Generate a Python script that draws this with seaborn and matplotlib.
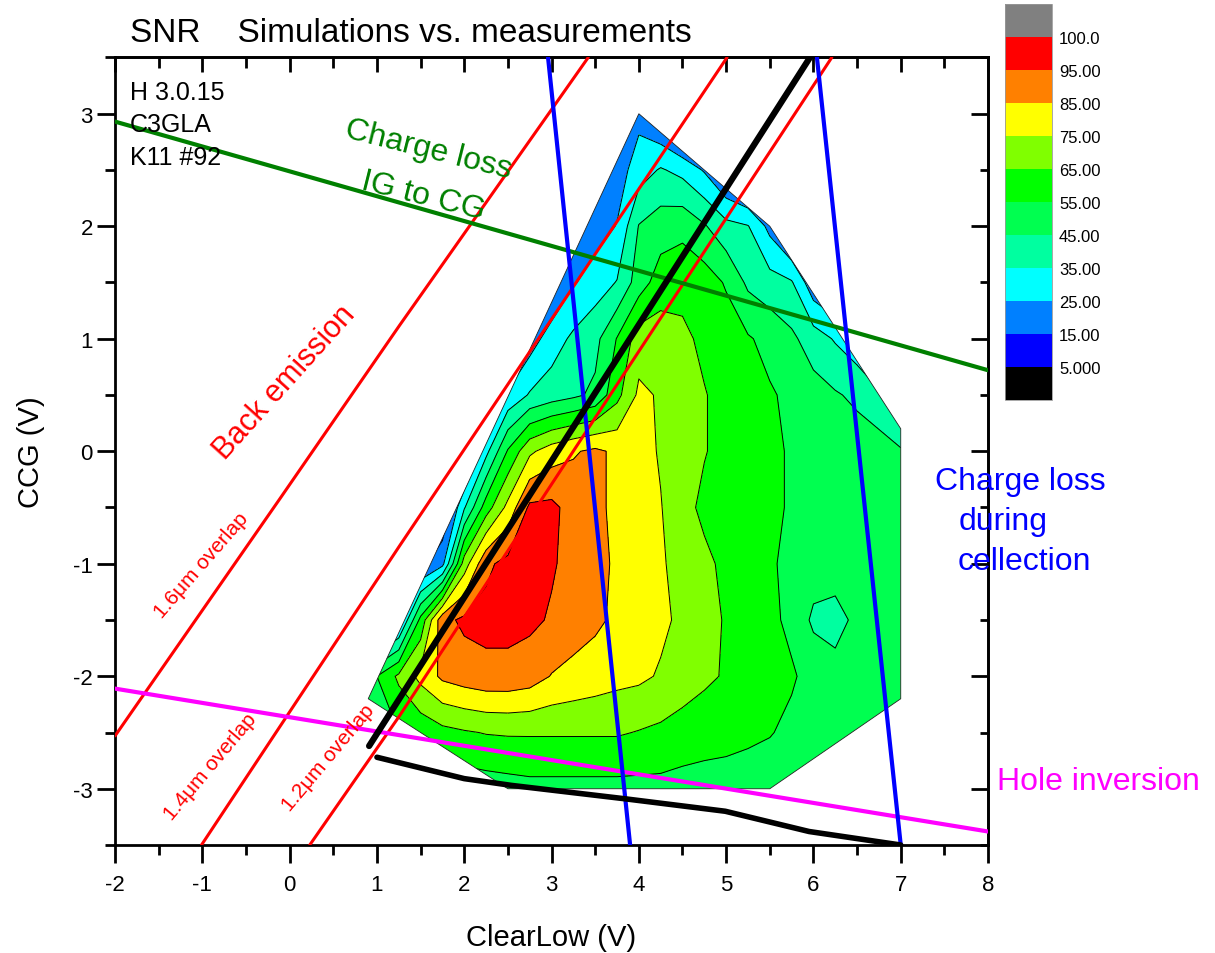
import numpy as np
import matplotlib
matplotlib.use("Agg")
import matplotlib.pyplot as plt
import matplotlib.patches as mpatches
from matplotlib.colors import ListedColormap, BoundaryNorm
from matplotlib.cm import ScalarMappable
from matplotlib.ticker import MultipleLocator
import seaborn as sns

# ---------------------------------------------------------------- data
# SNR sampled on a ClearLow x CCG grid (one list per CCG row)
clearlow_grid = [0.75, 1.0, 1.25, 1.5, 1.75, 2.0, 2.25, 2.5, 2.75, 3.0, 3.25, 3.5,
                 3.75, 4.0, 4.25, 4.5, 4.75, 5.0, 5.25, 5.5, 5.75, 6.0, 6.25, 6.5, 7.0]
ccg_grid = [-3.0, -2.5, -2.0, -1.5, -1.0, -0.5, 0.0, 0.5, 1.0, 1.5, 2.0, 2.5, 3.0]

snr_ccg_m30 = [45, 45, 46, 47, 48, 49, 50, 51, 52, 52, 52, 52, 52, 52, 52, 51, 51, 51, 50, 50, 49, 48, 47, 46, 44]
snr_ccg_m25 = [45, 50, 55, 58, 62, 64, 65.5, 66, 66, 66, 66, 66, 66, 64.5, 63, 61, 59, 58, 57, 55.5, 53, 51, 50, 49, 47]
snr_ccg_m20 = [45, 55, 67, 78, 87, 90, 92, 92, 90, 84.5, 82, 80, 78, 77, 74, 70, 67, 64, 61, 58, 56, 52, 48, 48, 49]
snr_ccg_m15 = [0, 5, 20, 58, 92, 97, 98, 98, 97, 94, 90, 87, 83, 80, 77, 73, 69, 64, 61, 57, 53, 43, 42, 47, 49]
snr_ccg_m10 = [0, 0, 0, 12, 22, 70, 93, 98, 98, 96, 92, 87, 84, 80, 76, 72, 67, 63, 60, 56, 53, 50, 49, 49, 49]
snr_ccg_m05 = [0, 0, 0, 0, 5, 34, 60, 78, 97, 97.5, 91, 87, 83, 79, 75.5, 68, 63, 61, 60, 57, 54, 52, 51, 50, 48]
snr_ccg_p00 = [0, 0, 0, 0, 0, 5, 32, 56, 73, 80, 84, 87, 83, 79, 74, 69, 65.5, 62, 60, 57, 54, 52, 51, 50, 46]
snr_ccg_p05 = [0, 0, 0, 0, 0, 0, 10, 27, 36, 40, 43, 47, 62, 77, 74, 70, 65.5, 62, 59, 56, 53, 49, 46, 43, 30]
snr_ccg_p10 = [0, 0, 0, 0, 0, 0, 0, 5, 20, 30, 37, 42, 55.5, 70, 70, 67, 63, 60, 56, 52, 47, 40, 34, 28, 15]
snr_ccg_p15 = [0, 0, 0, 0, 0, 0, 0, 0, 5, 14, 24, 30, 35.5, 50, 60, 62, 60, 54, 43, 39, 36, 18, 11, 5, 0]
snr_ccg_p20 = [0, 0, 0, 0, 0, 0, 0, 0, 0, 5, 10, 20, 25.5, 45.5, 50, 52, 46, 38, 35.5, 22, 8, 0, 0, 0, 0]
snr_ccg_p25 = [0, 0, 0, 0, 0, 0, 0, 0, 0, 0, 0, 12, 20, 30, 36, 32, 24, 12, 3, 0, 0, 0, 0, 0, 0]
snr_ccg_p30 = [0, 0, 0, 0, 0, 0, 0, 0, 0, 0, 0, 0, 8, 22, 12, 0, 0, 0, 0, 0, 0, 0, 0, 0, 0]

# outline of the measured region
hull_clearlow = [4.0, 5.5, 7.0, 7.0, 5.5, 2.5, 0.9]
hull_ccg = [3.0, 2.0, 0.2, -2.2, -3.0, -3.0, -2.2]

# colour scale
snr_bounds = [-5, 5, 15, 25, 35, 45, 55, 65, 75, 85, 95, 100, 110]
snr_colors = ["#000000", "#0000FF", "#0080FF", "#00FFFF", "#00FFA0", "#00FF50",
              "#00FF00", "#80FF00", "#FFFF00", "#FF8000", "#FF0000", "#808080"]
cbar_ticks = [5, 15, 25, 35, 45, 55, 65, 75, 85, 95, 100]
cbar_labels = ["5.000", "15.00", "25.00", "35.00", "45.00", "55.00", "65.00",
               "75.00", "85.00", "95.00", "100.0"]

# boundary lines
charge_loss_ig_x = [-2.0, 8.0]
charge_loss_ig_y = [2.93, 0.72]
hole_inv_x = [-2.0, 8.0]
hole_inv_y = [-2.11, -3.38]
collect_left_x = [2.96, 3.43, 3.90]
collect_left_y = [3.5, 0.0, -3.5]
collect_right_x = [6.04, 7.0]
collect_right_y = [3.5, -3.5]
overlap16_x = [-2.0, -0.11, 1.26, 3.42]
overlap16_y = [-2.53, -0.42, 1.12, 3.5]
overlap14_x = [-1.01, 1.26, 5.01]
overlap14_y = [-3.5, -0.84, 3.5]
overlap12_x = [0.23, 1.26, 6.21]
overlap12_y = [-3.5, -2.35, 3.5]
sim_diag_x = [0.91, 5.96]
sim_diag_y = [-2.62, 3.5]
sim_low_x = [1.0, 2.0, 2.54, 3.85, 4.99, 5.95, 7.0]
sim_low_y = [-2.72, -2.91, -2.97, -3.09, -3.2, -3.38, -3.5]

# ---------------------------------------------------------------- style
sns.set_theme(style="ticks")
plt.rcParams["font.family"] = ["Liberation Sans", "DejaVu Sans"]
plt.rcParams["axes.linewidth"] = 2.0
plt.rcParams["axes.unicode_minus"] = False
plt.rcParams["text.color"] = "black"
plt.rcParams["axes.labelcolor"] = "black"
plt.rcParams["xtick.color"] = "black"
plt.rcParams["ytick.color"] = "black"

fig = plt.figure(figsize=(12.15, 9.54), dpi=100)
fig.patch.set_facecolor("white")
ax = fig.add_axes([0.0947, 0.1132, 0.7185, 0.8255])
ax.set_facecolor("white")

# ---------------------------------------------------------------- contours
X, Y = np.meshgrid(clearlow_grid, ccg_grid)
Z = np.array([snr_ccg_m30, snr_ccg_m25, snr_ccg_m20, snr_ccg_m15, snr_ccg_m10,
              snr_ccg_m05, snr_ccg_p00, snr_ccg_p05, snr_ccg_p10, snr_ccg_p15,
              snr_ccg_p20, snr_ccg_p25, snr_ccg_p30])

cmap = ListedColormap(snr_colors)
norm = BoundaryNorm(snr_bounds, cmap.N)

region = mpatches.Polygon(np.column_stack([hull_clearlow, hull_ccg]), closed=True,
                          transform=ax.transData)
filled = ax.contourf(X, Y, Z, levels=snr_bounds, cmap=cmap, norm=norm, zorder=1)
filled.set_clip_path(region)
lines = ax.contour(X, Y, Z, levels=snr_bounds[1:-2], colors="black",
                   linewidths=0.7, zorder=2)
lines.set_clip_path(region)
edge = mpatches.Polygon(np.column_stack([hull_clearlow, hull_ccg]), closed=True,
                        fill=False, edgecolor="#222222", linewidth=0.6, zorder=2)
ax.add_patch(edge)

# ---------------------------------------------------------------- lines
def draw(xs, ys, color, lw):
    sns.lineplot(x=xs, y=ys, sort=False, estimator=None, color=color,
                 linewidth=lw, ax=ax, zorder=4)

draw(overlap16_x, overlap16_y, "#FF0000", 2.2)
draw(overlap14_x, overlap14_y, "#FF0000", 2.2)
draw(overlap12_x, overlap12_y, "#FF0000", 2.2)
draw(charge_loss_ig_x, charge_loss_ig_y, "#008000", 3.0)
draw(hole_inv_x, hole_inv_y, "#FF00FF", 3.0)
draw(collect_left_x, collect_left_y, "#0000FF", 3.0)
draw(collect_right_x, collect_right_y, "#0000FF", 3.0)
draw(sim_diag_x, sim_diag_y, "#000000", 4.5)
draw(sim_low_x, sim_low_y, "#000000", 4.0)

ax.set_xlim(-2, 8)
ax.set_ylim(-3.5, 3.5)

# ---------------------------------------------------------------- axes
ax.xaxis.set_major_locator(MultipleLocator(1))
ax.xaxis.set_minor_locator(MultipleLocator(0.5))
ax.yaxis.set_major_locator(MultipleLocator(1))
ax.yaxis.set_minor_locator(MultipleLocator(0.5))
ax.tick_params(axis="both", which="major", direction="out", length=13, width=2,
               labelsize=16, colors="black")
ax.tick_params(axis="both", which="minor", direction="out", length=7, width=2)
ax.tick_params(axis="x", which="major", pad=8)
ax.tick_params(axis="y", which="major", pad=3)
for s in ax.spines.values():
    s.set_linewidth(2.0)
    s.set_color("black")
    s.set_visible(True)

top = ax.secondary_xaxis("top")
top.xaxis.set_major_locator(MultipleLocator(1))
top.xaxis.set_minor_locator(MultipleLocator(0.5))
top.tick_params(which="major", direction="in", length=11, width=2, labeltop=False)
top.tick_params(which="minor", direction="in", length=8, width=2)
right = ax.secondary_yaxis("right")
right.yaxis.set_major_locator(MultipleLocator(1))
right.yaxis.set_minor_locator(MultipleLocator(0.5))
right.tick_params(which="major", direction="in", length=12, width=2, labelright=False)
right.tick_params(which="minor", direction="in", length=6, width=2)

ax.set_xlabel("ClearLow (V)", fontsize=21)
ax.set_ylabel("CCG (V)", fontsize=21)
ax.xaxis.set_label_coords(0.5, -0.099)
ax.yaxis.set_label_coords(-0.08, 0.5)

# ---------------------------------------------------------------- text
fig.text(0.107, 0.956, "SNR    Simulations vs. measurements", fontsize=24,
         va="baseline", ha="left")

for label, yb in [("H 3.0.15", 3.133), ("C3GLA", 2.849), ("K11 #92", 2.556)]:
    ax.text(-1.83, yb, label, fontsize=18, va="baseline", ha="left", zorder=5)

ax.text(1.585, 2.689, "Charge loss", color="#008000", fontsize=23, rotation=-14,
        ha="center", va="center", rotation_mode="anchor", zorder=5)
ax.text(1.528, 2.271, "IG to CG", color="#008000", fontsize=23, rotation=-14,
        ha="center", va="center", rotation_mode="anchor", zorder=5)

ax.text(-0.053, 0.618, "Back emission", color="#FF0000", fontsize=22, rotation=48,
        ha="center", va="center", rotation_mode="anchor", zorder=5)
ax.text(-1.015, -1.01, "1.6\u03bcm overlap", color="#FF0000", fontsize=15, rotation=49,
        ha="center", va="center", rotation_mode="anchor", zorder=5)
ax.text(-0.912, -2.80, "1.4\u03bcm overlap", color="#FF0000", fontsize=15, rotation=50,
        ha="center", va="center", rotation_mode="anchor", zorder=5)
ax.text(0.44, -2.72, "1.2\u03bcm overlap", color="#FF0000", fontsize=15, rotation=50,
        ha="center", va="center", rotation_mode="anchor", zorder=5)

ax.text(8.367, -0.333, "Charge loss", color="#0000FF", fontsize=23, ha="center",
        va="baseline", clip_on=False)
ax.text(8.17, -0.689, "during", color="#0000FF", fontsize=23, ha="center",
        va="baseline", clip_on=False)
ax.text(8.42, -1.044, "cellection", color="#0000FF", fontsize=23, ha="center",
        va="baseline", clip_on=False)
ax.text(8.103, -3.0, "Hole inversion", color="#FF00FF", fontsize=23, ha="left",
        va="baseline", clip_on=False)

# ---------------------------------------------------------------- colour bar
cax = fig.add_axes([0.8272, 0.5797, 0.0387, 0.4151])
sm = ScalarMappable(norm=norm, cmap=cmap)
cb = fig.colorbar(sm, cax=cax, spacing="uniform", ticks=cbar_ticks)
cb.ax.set_yticklabels(cbar_labels)
cb.ax.minorticks_off()
cb.ax.tick_params(length=0, labelsize=12, pad=5)
cb.outline.set_linewidth(0.6)
cb.outline.set_edgecolor("#999999")

fig.savefig("out.png", dpi=100, facecolor="white")
